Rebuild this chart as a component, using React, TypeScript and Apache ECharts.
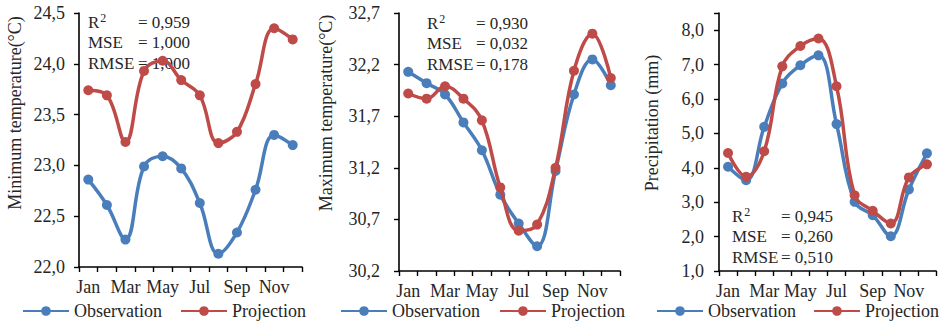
import React, { useEffect, useRef } from "react";
import * as echarts from "echarts";

const months = ["Jan", "Feb", "Mar", "Apr", "May", "Jun", "Jul", "Aug", "Sep", "Oct", "Nov", "Dec"];

// Minimum temperature (°C)
const minTempObs = [22.86, 22.61, 22.27, 22.99, 23.09, 22.97, 22.63, 22.13, 22.34, 22.76, 23.30, 23.20];
const minTempProj = [23.74, 23.69, 23.23, 23.93, 24.03, 23.84, 23.69, 23.22, 23.33, 23.80, 24.35, 24.24];

// Maximum temperature (°C)
const maxTempObs = [32.13, 32.02, 31.91, 31.64, 31.37, 30.94, 30.66, 30.44, 31.17, 31.91, 32.25, 32.00];
const maxTempProj = [31.92, 31.87, 31.99, 31.87, 31.66, 31.01, 30.59, 30.65, 31.20, 32.14, 32.50, 32.07];

// Precipitation (mm)
const precipObs = [4.03, 3.64, 5.19, 6.45, 6.98, 7.27, 5.27, 3.01, 2.62, 2.01, 3.37, 4.42];
const precipProj = [4.43, 3.74, 4.48, 6.95, 7.54, 7.76, 6.37, 3.20, 2.75, 2.38, 3.72, 4.10];

// Fit statistics per panel
const statNames = ["R", "MSE", "RMSE"];
const minTempStats = ["0,959", "1,000", "1,000"];
const maxTempStats = ["0,930", "0,032", "0,178"];
const precipStats = ["0,945", "0,260", "0,510"];

const axisNames = ["Minimum temperature(°C)", "Maximum temperature(°C)", "Precipitation (mm)"];

const FONT = "'Liberation Serif', 'Times New Roman', serif";
const TEXT = "#262626";
const BLUE = "#4A7EBB";
const RED = "#BE4B48";

export default function App() {
  const ref = useRef<HTMLDivElement>(null);

  useEffect(() => {
    if (!ref.current) return;
    const chart = echarts.init(ref.current, undefined, { renderer: "svg" });

    const grids = [
      { left: 79, top: 13, width: 223, height: 254 },
      { left: 399, top: 13, width: 221, height: 258 },
      { left: 719, top: 13, width: 217, height: 258 },
    ];
    const yRanges = [
      { min: 22, max: 24.5, interval: 0.5, margin: 14 },
      { min: 30.2, max: 32.7, interval: 0.5, margin: 19 },
      { min: 1, max: 8.5, interval: 1, margin: 15 },
    ];
    const seriesData = [
      [minTempObs, minTempProj],
      [maxTempObs, maxTempProj],
      [precipObs, precipProj],
    ];
    const stats = [minTempStats, maxTempStats, precipStats];
    const statPos = [
      { x: 88, eq: 138, y: 22 },
      { x: 427, eq: 476, y: 23 },
      { x: 732, eq: 781, y: 216 },
    ];
    const namePos = [
      { x: 15, y: 113 },
      { x: 326, y: 113 },
      { x: 652, y: 123 },
    ];
    const legends = [
      { left: 22, gap: 18 },
      { left: 340, gap: 19 },
      { left: 656, gap: 17 },
    ];

    const axisLine = { show: true, lineStyle: { color: "#000", width: 1.6 } };
    const axisTick = { show: true, length: 5, lineStyle: { color: "#000", width: 1.4 } };

    const series: any[] = [];
    seriesData.forEach((pair, i) => {
      pair.forEach((data, k) => {
        const color = k === 0 ? BLUE : RED;
        series.push({
          name: k === 0 ? "Observation" : "Projection",
          type: "line",
          xAxisIndex: i,
          yAxisIndex: i,
          data,
          smooth: 0.4,
          symbol: "circle",
          symbolSize: 10,
          z: k === 0 ? 2 : 3,
          lineStyle: { color, width: 3.5 },
          itemStyle: { color },
        });
      });
    });

    const statFont = `17px ${FONT}`;
    const graphic: any[] = [];
    stats.forEach((vals, i) => {
      const p = statPos[i];
      statNames.forEach((n, j) => {
        const y = p.y + j * 20.5;
        graphic.push({
          type: "text",
          x: p.x,
          y,
          style: {
            text: j === 0 ? "{b|R}{s|2}" : n,
            font: statFont,
            fill: TEXT,
            verticalAlign: "middle",
            rich: {
              b: { font: statFont, fill: TEXT },
              s: { font: `12px ${FONT}`, fill: TEXT, verticalAlign: "bottom", padding: [0, 0, 8, 1] },
            },
          },
        });
        graphic.push({
          type: "text",
          x: p.eq,
          y,
          style: { text: "= " + vals[j], font: statFont, fill: TEXT, verticalAlign: "middle" },
        });
      });
    });
    axisNames.forEach((n, i) => {
      graphic.push({
        type: "text",
        x: namePos[i].x,
        y: namePos[i].y,
        rotation: Math.PI / 2,
        style: { text: n, font: `18px ${FONT}`, fill: TEXT, align: "center", verticalAlign: "middle" },
      });
    });

    chart.setOption({
      animation: false,
      backgroundColor: "#fff",
      grid: grids,
      xAxis: grids.map((_, i) => ({
        type: "category",
        gridIndex: i,
        data: months,
        boundaryGap: true,
        axisLine,
        axisTick: { ...axisTick, interval: 0 },
        axisLabel: { interval: 1, margin: 11, fontFamily: FONT, fontSize: 18, color: TEXT },
        splitLine: { show: false },
      })),
      yAxis: yRanges.map((r, i) => ({
        type: "value",
        gridIndex: i,
        min: r.min,
        max: r.max,
        interval: r.interval,
        axisLine,
        axisTick,
        splitLine: { show: false },
        axisLabel: {
          margin: r.margin,
          fontFamily: FONT,
          fontSize: 18,
          color: TEXT,
          formatter: (v: number) => {
            const steps = (v - r.min) / r.interval;
            if (Math.abs(steps - Math.round(steps)) > 1e-6) return "";
            return v.toFixed(1).replace(".", ",");
          },
        },
      })),
      legend: legends.map((l) => ({
        left: l.left,
        top: 302,
        width: 300,
        padding: 0,
        itemWidth: 46,
        itemHeight: 12,
        itemGap: l.gap,
        data: ["Observation", "Projection"],
        textStyle: { fontFamily: FONT, fontSize: 18, color: TEXT },
      })),
      series,
      graphic,
    });

    return () => chart.dispose();
  }, []);

  return (
    <div
      ref={ref}
      style={{ position: "fixed", left: 0, top: 0, width: 942, height: 324, background: "#fff" }}
    />
  );
}
